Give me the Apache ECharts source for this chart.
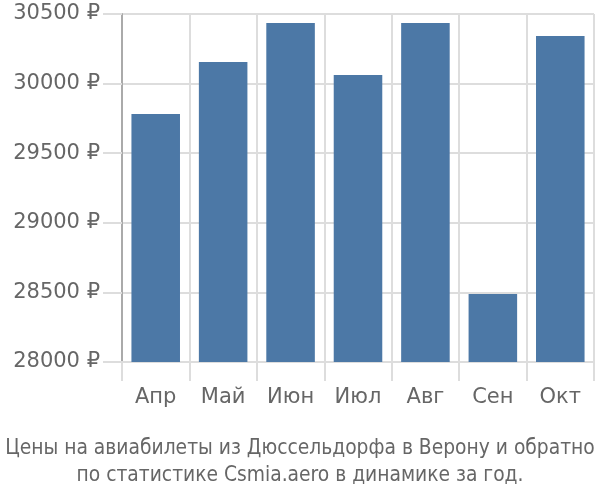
<!DOCTYPE html>
<html><head><meta charset="utf-8">
<script src="https://cdn.jsdelivr.net/npm/echarts@6/dist/echarts.min.js"></script>
<style>html,body{margin:0;padding:0;background:#fff}#c{width:600px;height:500px}</style>
</head><body><div id="c"></div>
<script>
var categories = ['Апр','Май','Июн','Июл','Авг','Сен','Окт'];
var prices = [29782, 30155, 30435, 30062, 30435, 28488, 30342];
var titleLines = ['Цены на авиабилеты из Дюссельдорфа в Верону и обратно','по статистике Csmia.aero в динамике за год.'];

var chart = echarts.init(document.getElementById('c'), null, {renderer:'canvas'});
chart.setOption({
  animation:false,
  backgroundColor:'#fff',
  textStyle:{fontFamily:'Liberation Sans, Arial, sans-serif'},
  title:{
    text: titleLines.join('\n'),
    left:'center', bottom:6,
    textStyle:{fontSize:20.8, fontWeight:'normal', color:'#666', lineHeight:27, fontFamily:'DejaVu Sans Condensed'}
  },
  grid:{left:122, right:6, top:14, bottom:138, containLabel:false},
  xAxis:{
    type:'category', data:categories,
    axisLine:{show:true, lineStyle:{color:'#ddd', width:2}},
    axisTick:{show:true, length:19, lineStyle:{color:'#ddd', width:2}},
    splitLine:{show:true, lineStyle:{color:'#ddd', width:2}},
    axisLabel:{fontSize:21, color:'#666', margin:25, fontFamily:'DejaVu Sans'}
  },
  yAxis:{
    type:'value', min:28000, max:30500, interval:500,
    axisLine:{show:true, lineStyle:{color:'#aaa', width:2}},
    axisTick:{show:true, length:19, lineStyle:{color:'#ddd', width:2}},
    splitLine:{show:true, lineStyle:{color:'#ddd', width:2}},
    axisLabel:{fontSize:21, color:'#666', margin:22, fontFamily:'DejaVu Sans', formatter:function(v){return v+' ₽';}}
  },
  series:[{
    type:'bar', data:prices, barCategoryGap:'28%',
    itemStyle:{color:'#4c78a6'}
  }]
});
</script></body></html>
